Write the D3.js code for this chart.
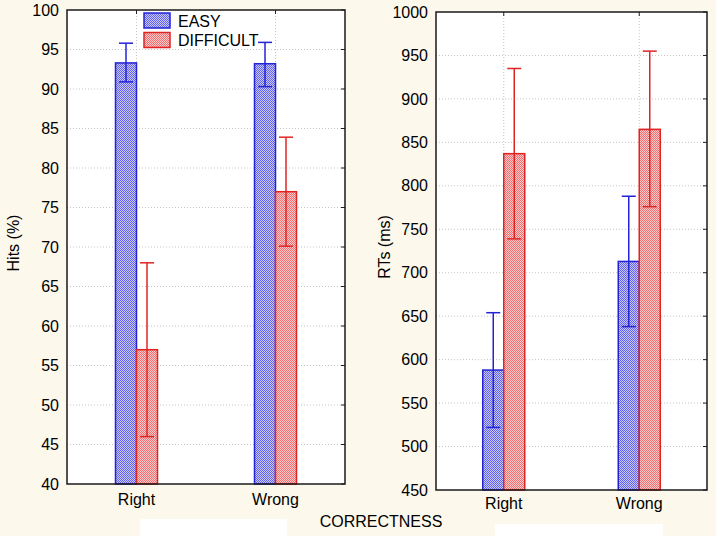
<!DOCTYPE html>
<html>
<head>
<meta charset="utf-8">
<script src="https://cdn.jsdelivr.net/npm/d3@7"></script>
<style>
  body { margin: 0; background: #fcf8ec; }
  svg { display: block; font-family: Arial, "Liberation Sans", sans-serif; }
</style>
</head>
<body>
<div id="chart"></div>
<script>
// categories and series
var categories = ["Right", "Wrong"];
var series = ["EASY", "DIFFICULT"];

// left panel: hits (%)
var hitsEasy = [93.3, 93.2];
var hitsEasyLo = [90.9, 90.3];
var hitsEasyHi = [95.8, 95.9];
var hitsDiff = [57.0, 77.0];
var hitsDiffLo = [46.0, 70.1];
var hitsDiffHi = [68.0, 83.9];
var hitsTicks = [40, 45, 50, 55, 60, 65, 70, 75, 80, 85, 90, 95, 100];

// right panel: RTs (ms)
var rtEasy = [588, 713];
var rtEasyLo = [522, 638];
var rtEasyHi = [654, 788];
var rtDiff = [837, 865];
var rtDiffLo = [739, 776];
var rtDiffHi = [935, 955];
var rtTicks = [450, 500, 550, 600, 650, 700, 750, 800, 850, 900, 950, 1000];

var svgWidth = 716, svgHeight = 536;
var colours = { EASY: "#2323d8", DIFFICULT: "#e02424" };

var svg = d3.select("#chart")
    .append("svg")
    .attr("width", svgWidth)
    .attr("height", svgHeight);

svg.append("rect").attr("width", svgWidth).attr("height", svgHeight).attr("fill", "#fcf8ec");
// pale boxes at the bottom of the original figure
svg.append("rect").attr("x", 140).attr("y", 519).attr("width", 147).attr("height", 17).attr("fill", "#ffffff");
svg.append("rect").attr("x", 495).attr("y", 524).attr("width", 168).attr("height", 12).attr("fill", "#ffffff");

// checker patterns for bars
var defs = svg.append("defs");
function makePattern(id, dark, light) {
    var p = defs.append("pattern")
        .attr("id", id)
        .attr("patternUnits", "userSpaceOnUse")
        .attr("width", 2).attr("height", 2);
    p.append("rect").attr("width", 2).attr("height", 2).attr("fill", light);
    p.append("rect").attr("width", 1).attr("height", 1).attr("fill", dark);
    p.append("rect").attr("x", 1).attr("y", 1).attr("width", 1).attr("height", 1).attr("fill", dark);
}
makePattern("patEASY", "#6262ea", "#c8c8fb");
makePattern("patDIFFICULT", "#ee7070", "#fccaca");

function drawPanel(opts) {
    var x0 = opts.left, x1 = opts.right, y0 = opts.top, y1 = opts.bottom;

    var xScale = d3.scaleBand().domain(categories).range([x0, x1]).padding(0);
    var subScale = d3.scaleBand().domain(series).range([-21, 21]).padding(0);
    var yScale = d3.scaleLinear().domain(opts.domain).range([y1, y0]);

    var grp = svg.append("g");

    // plot background
    grp.append("rect")
        .attr("x", x0).attr("y", y0)
        .attr("width", x1 - x0).attr("height", y1 - y0)
        .attr("fill", "#ffffff");

    // horizontal grid
    grp.selectAll(".hgrid")
        .data(opts.ticks.slice(1, -1))
        .enter().append("line")
        .attr("x1", x0).attr("x2", x1)
        .attr("y1", function (d) { return yScale(d); })
        .attr("y2", function (d) { return yScale(d); })
        .attr("stroke", "#c4c4c4")
        .attr("stroke-dasharray", "1,2");

    // vertical grid at categories
    grp.selectAll(".vgrid")
        .data(categories)
        .enter().append("line")
        .attr("x1", function (d) { return xScale(d) + xScale.bandwidth() / 2; })
        .attr("x2", function (d) { return xScale(d) + xScale.bandwidth() / 2; })
        .attr("y1", y0).attr("y2", y1)
        .attr("stroke", "#c4c4c4")
        .attr("stroke-dasharray", "1,2");

    // bars + error bars
    series.forEach(function (s) {
        var vals = opts.values[s];
        var rows = categories.map(function (c, i) {
            return { cat: c, v: vals.mean[i], lo: vals.lo[i], hi: vals.hi[i] };
        });
        var cx = function (d) { return xScale(d.cat) + xScale.bandwidth() / 2 + subScale(s); };

        grp.selectAll(".bar" + s)
            .data(rows)
            .enter().append("rect")
            .attr("x", cx)
            .attr("y", function (d) { return yScale(d.v); })
            .attr("width", subScale.bandwidth())
            .attr("height", function (d) { return y1 - yScale(d.v); })
            .attr("fill", "url(#pat" + s + ")")
            .attr("stroke", colours[s])
            .attr("stroke-width", 1.5);

        var mid = function (d) { return cx(d) + subScale.bandwidth() / 2; };
        var err = grp.selectAll(".err" + s)
            .data(rows)
            .enter().append("g")
            .attr("stroke", colours[s])
            .attr("stroke-width", 1.5);
        err.append("line")
            .attr("x1", mid).attr("x2", mid)
            .attr("y1", function (d) { return yScale(d.lo); })
            .attr("y2", function (d) { return yScale(d.hi); });
        err.append("line")
            .attr("x1", function (d) { return mid(d) - 7; })
            .attr("x2", function (d) { return mid(d) + 7; })
            .attr("y1", function (d) { return yScale(d.hi); })
            .attr("y2", function (d) { return yScale(d.hi); });
        err.append("line")
            .attr("x1", function (d) { return mid(d) - 7; })
            .attr("x2", function (d) { return mid(d) + 7; })
            .attr("y1", function (d) { return yScale(d.lo); })
            .attr("y2", function (d) { return yScale(d.lo); });
    });

    // inner ticks on right border and top border
    grp.selectAll(".rtick")
        .data(opts.ticks)
        .enter().append("line")
        .attr("x1", x1 - 4).attr("x2", x1)
        .attr("y1", function (d) { return yScale(d); })
        .attr("y2", function (d) { return yScale(d); })
        .attr("stroke", "#222");
    grp.selectAll(".ttick")
        .data(categories)
        .enter().append("line")
        .attr("x1", function (d) { return xScale(d) + xScale.bandwidth() / 2; })
        .attr("x2", function (d) { return xScale(d) + xScale.bandwidth() / 2; })
        .attr("y1", y0).attr("y2", y0 + 4)
        .attr("stroke", "#222");

    // frame
    grp.append("rect")
        .attr("x", x0).attr("y", y0)
        .attr("width", x1 - x0).attr("height", y1 - y0)
        .attr("fill", "none")
        .attr("stroke", "#1a1a1a")
        .attr("stroke-width", 1.5);

    // y axis labels
    var yAxis = d3.axisLeft(yScale).tickValues(opts.ticks).tickFormat(d3.format("d"))
        .tickSize(0).tickPadding(8);
    var yg = grp.append("g").attr("transform", "translate(" + x0 + ",0)").call(yAxis);
    yg.select(".domain").remove();
    yg.selectAll("text").attr("font-size", 16).attr("fill", "#000")
        .attr("font-family", "Arial, 'Liberation Sans', sans-serif");

    // x axis labels
    var xAxis = d3.axisBottom(xScale).tickSize(0).tickPadding(opts.xPad);
    var xg = grp.append("g").attr("transform", "translate(0," + y1 + ")").call(xAxis);
    xg.select(".domain").remove();
    xg.selectAll("text").attr("font-size", 16).attr("fill", "#000")
        .attr("font-family", "Arial, 'Liberation Sans', sans-serif");

    // y title
    grp.append("text")
        .attr("transform", "translate(" + opts.titleX + "," + ((y0 + y1) / 2 - 4) + ") rotate(-90)")
        .attr("text-anchor", "middle")
        .attr("font-size", 16)
        .attr("fill", "#000")
        .text(opts.title);
}

drawPanel({
    left: 67, right: 345, top: 10, bottom: 484,
    domain: [40, 100], ticks: hitsTicks, xPad: 10,
    title: "Hits (%)", titleX: 19,
    values: {
        EASY: { mean: hitsEasy, lo: hitsEasyLo, hi: hitsEasyHi },
        DIFFICULT: { mean: hitsDiff, lo: hitsDiffLo, hi: hitsDiffHi }
    }
});

drawPanel({
    left: 436, right: 707, top: 12, bottom: 490,
    domain: [450, 1000], ticks: rtTicks, xPad: 8,
    title: "RTs (ms)", titleX: 390,
    values: {
        EASY: { mean: rtEasy, lo: rtEasyLo, hi: rtEasyHi },
        DIFFICULT: { mean: rtDiff, lo: rtDiffLo, hi: rtDiffHi }
    }
});

// legend
var legend = svg.append("g");
series.forEach(function (s, i) {
    legend.append("rect")
        .attr("x", 144).attr("y", 13 + i * 19.5)
        .attr("width", 26).attr("height", 15)
        .attr("fill", "url(#pat" + s + ")")
        .attr("stroke", colours[s])
        .attr("stroke-width", 1.5);
    legend.append("text")
        .attr("x", 178).attr("y", 26.5 + i * 19.5)
        .attr("font-size", 16)
        .attr("fill", "#000")
        .text(s);
});

// shared x title
svg.append("text")
    .attr("x", 381).attr("y", 527)
    .attr("text-anchor", "middle")
    .attr("font-size", 16)
    .attr("fill", "#000")
    .text("CORRECTNESS");
</script>
</body>
</html>
